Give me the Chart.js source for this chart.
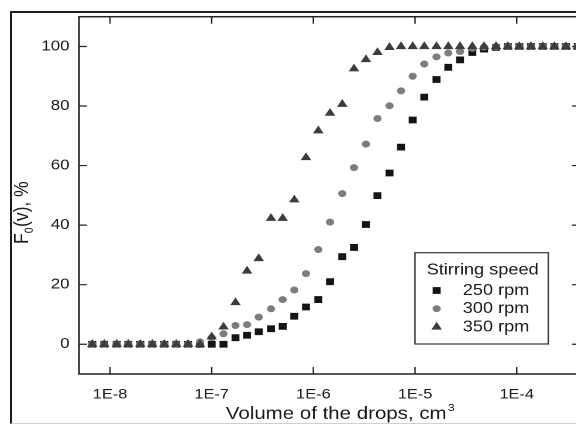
<!DOCTYPE html>
<html>
<head>
<meta charset="utf-8">
<script src="https://cdn.jsdelivr.net/npm/chart.js@4"></script>
<style>
  html, body { margin: 0; padding: 0; background: #fff; }
  #wrap { position: relative; width: 576px; height: 425px; overflow: hidden; }
  #frame {
    position: absolute; left: 10px; top: 11px; width: 700px; height: 410px;
    border-left: 2px solid #1e1e1e; border-top: 2px solid #1e1e1e; border-bottom: 1px solid #d0d0d0;
  }
  /* the figure is a little wider than tall, so the whole plot is stretched sideways */
  #plot { position: absolute; left: 0; top: 0; transform: scaleX(1.17); transform-origin: 0 0; }
</style>
</head>
<body>
<div id="wrap">
  <div id="frame"></div>
  <canvas id="plot" width="510" height="425"></canvas>
</div>
<script>
// drop volume classes, cm3
const volume = [
  6.69e-9, 8.78e-9, 1.163e-8, 1.512e-8, 1.985e-8, 2.605e-8, 3.42e-8, 4.48e-8, 5.85e-8, 7.67e-8,
  1.0e-7, 1.306e-7, 1.714e-7, 2.225e-7, 2.90e-7, 3.83e-7, 4.99e-7, 6.49e-7, 8.46e-7, 1.118e-6,
  1.458e-6, 1.925e-6, 2.51e-6, 3.29e-6, 4.27e-6, 5.61e-6, 7.28e-6, 9.48e-6, 1.233e-5, 1.626e-5,
  2.124e-5, 2.77e-5, 3.66e-5, 4.77e-5, 6.26e-5, 8.16e-5, 1.060e-4, 1.383e-4, 1.802e-4, 2.344e-4,
  3.05e-4, 3.98e-4
];

// cumulative fraction F0(v), %
const rpm250 = [
  0, 0, 0, 0, 0, 0, 0, 0, 0, 0,
  0, 0, 2.2, 3.0, 4.2, 5.2, 6.0, 9.4, 12.5, 15.0,
  21.0, 29.4, 32.5, 40.2, 49.9, 57.5, 66.2, 75.3, 83.0, 88.9,
  93.0, 95.5, 98.0, 99.1, 99.7, 100, 100, 100, 100, 100,
  100, 100
];
const rpm300 = [
  0, 0, 0, 0, 0, 0, 0, 0, 0, 0.8,
  2.2, 3.5, 6.3, 6.6, 9.1, 11.9, 15.0, 18.2, 23.7, 31.8,
  41.0, 50.6, 59.3, 67.2, 75.8, 80.1, 85.1, 90.0, 94.1, 96.5,
  97.8, 98.3, 99.4, 99.8, 100, 100, 100, 100, 100, 100,
  100, 100
];
const rpm350 = [
  0, 0, 0, 0, 0, 0, 0, 0, 0, 0,
  2.5, 5.8, 14.0, 24.6, 28.8, 42.3, 42.3, 48.5, 62.7, 71.7,
  77.6, 80.6, 92.5, 95.6, 98.0, 99.7, 100, 100, 100, 100,
  100, 100, 100, 100, 100, 100, 100, 100, 100, 100,
  100, 100
];

const seriesNames = ["250 rpm", "300 rpm", "350 rpm"];
const legendTitle = "Stirring speed";
const xDecades = [-9, -8, -7, -6, -5, -4];
const yLabels = [0, 20, 40, 60, 80, 100];

const FONT = "'Liberation Sans', Arial, sans-serif";
Chart.defaults.font.family = FONT;
Chart.defaults.color = "#1a1a1a";

function points(values) {
  return volume.map((v, i) => ({ x: v, y: values[i] }));
}

// frame with inward ticks on all four sides, titles and the boxed legend
const framePlugin = {
  id: "frame",
  beforeDatasetsDraw(chart) {
    const { ctx, chartArea: a, scales } = chart;
    const x = scales.x, y = scales.y;
    ctx.save();
    ctx.strokeStyle = "#222";
    ctx.lineWidth = 1.5;
    ctx.strokeRect(a.left, a.top, a.right - a.left, a.bottom - a.top);

    ctx.beginPath();
    x.ticks.forEach((t) => {
      const px = x.getPixelForValue(t.value);
      const len = t.major ? 7 : 4;
      ctx.moveTo(px, a.bottom);
      ctx.lineTo(px, a.bottom - len);
      ctx.moveTo(px, a.top);
      ctx.lineTo(px, a.top + len);
    });
    y.ticks.forEach((t) => {
      if (t.value <= y.min || t.value >= y.max) return;
      const py = y.getPixelForValue(t.value);
      const len = yLabels.includes(t.value) ? 6.8 : 3.4;
      ctx.moveTo(a.left, py);
      ctx.lineTo(a.left + len, py);
      ctx.moveTo(a.right, py);
      ctx.lineTo(a.right - len, py);
    });
    ctx.lineWidth = 1.2;
    ctx.stroke();
    ctx.restore();
  },
  afterDraw(chart) {
    const ctx = chart.ctx;
    ctx.save();
    ctx.fillStyle = "#1a1a1a";

    // x axis title with cm3 superscript
    ctx.textBaseline = "alphabetic";
    ctx.textAlign = "left";
    ctx.font = "17.5px " + FONT;
    const xt = "Volume of the drops, cm";
    ctx.fillText(xt, 193, 419);
    const w = ctx.measureText(xt).width;
    ctx.font = "10.5px " + FONT;
    ctx.fillText("3", 193 + w + 1, 411);

    // y axis title F0(v), %
    ctx.translate(24, 244);
    ctx.rotate(-Math.PI / 2);
    ctx.font = "17.5px " + FONT;
    ctx.fillText("F", 0, 0);
    let off = ctx.measureText("F").width;
    ctx.font = "10.5px " + FONT;
    ctx.fillText("0", off, 4);
    off += ctx.measureText("0").width + 0.5;
    ctx.font = "17.5px " + FONT;
    ctx.fillText("(v), %", off, 0);
    ctx.restore();

    // legend box
    ctx.save();
    ctx.fillStyle = "#fff";
    ctx.fillRect(354.7, 252.7, 113.9, 91.3);
    ctx.strokeStyle = "#333";
    ctx.lineWidth = 1.2;
    ctx.strokeRect(354.7, 252.7, 113.9, 91.3);
    ctx.fillStyle = "#1a1a1a";
    ctx.font = "15.5px " + FONT;
    ctx.textBaseline = "middle";
    ctx.textAlign = "left";
    ctx.fillText(legendTitle, 364.7, 270);
    const rows = [290.5, 308.7, 327];
    chart.data.datasets.forEach((ds, i) => {
      ctx.fillStyle = ds.backgroundColor;
      Chart.helpers.drawPoint(ctx, {
        pointStyle: ds.pointStyle, radius: ds.pointRadius, rotation: 0, borderWidth: 0
      }, 373.2, rows[i]);
      ctx.fillStyle = "#1a1a1a";
      ctx.fillText(ds.label, 395.5, rows[i]);
    });
    ctx.restore();
  }
};

new Chart(document.getElementById("plot"), {
  type: "scatter",
  data: {
    datasets: [
      {
        label: seriesNames[0], data: points(rpm250), pointStyle: "rect", pointRadius: 4.8,
        backgroundColor: "#141414", borderWidth: 0, order: 2
      },
      {
        label: seriesNames[1], data: points(rpm300), pointStyle: "circle", pointRadius: 3.5,
        backgroundColor: "#7d7d7d", borderWidth: 0, order: 1
      },
      {
        label: seriesNames[2], data: points(rpm350), pointStyle: "triangle", pointRadius: 5.2,
        backgroundColor: "#3c3c3c", borderWidth: 0, order: 0
      }
    ]
  },
  options: {
    responsive: false,
    devicePixelRatio: 2,
    animation: false,
    layout: { padding: { top: 13.6, right: 14.3, bottom: 0, left: 0 } },
    plugins: { legend: { display: false }, tooltip: { enabled: false } },
    scales: {
      x: {
        type: "logarithmic",
        bounds: "data",
        min: 4.95e-9,
        max: 4.19e-4,
        grid: { display: false, drawTicks: false },
        border: { display: false },
        afterBuildTicks: (scale) => {
          const ticks = [];
          xDecades.forEach((e) => {
            for (let m = 1; m <= 9; m++) {
              const v = m * Math.pow(10, e);
              if (v >= scale.min && v <= scale.max) ticks.push({ value: v, major: m === 1 });
            }
          });
          scale.ticks = ticks;
        },
        afterFit: (scale) => { scale.height = 51; },
        ticks: {
          autoSkip: false,
          maxRotation: 0,
          minRotation: 0,
          padding: 12,
          font: { size: 14 },
          callback: (value, i, ticks) =>
            ticks[i].major ? "1E" + Math.round(Math.log10(value)) : null
        }
      },
      y: {
        min: -10,
        max: 110,
        grid: { display: false, drawTicks: false },
        border: { display: false },
        afterFit: (scale) => { scale.width = 67.5; },
        ticks: {
          stepSize: 10,
          padding: 8,
          font: { size: 14.5 },
          callback: (value) => (yLabels.includes(value) ? value : null)
        }
      }
    }
  },
  plugins: [framePlugin]
});
</script>
</body>
</html>
